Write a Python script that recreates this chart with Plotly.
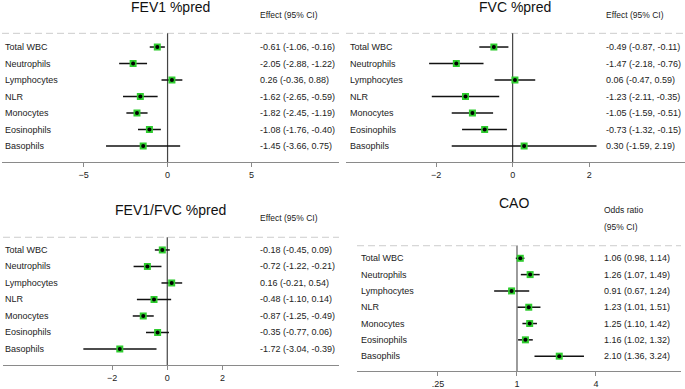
import plotly.graph_objects as go

# ---------------- data ----------------
labels = ["Total WBC", "Neutrophils", "Lymphocytes", "NLR", "Monocytes", "Eosinophils", "Basophils"]

fev1_est = [-0.61, -2.05, 0.26, -1.62, -1.82, -1.08, -1.45]
fev1_lo = [-1.06, -2.88, -0.36, -2.65, -2.45, -1.76, -3.66]
fev1_hi = [-0.16, -1.22, 0.88, -0.59, -1.19, -0.40, 0.75]

fvc_est = [-0.49, -1.47, 0.06, -1.23, -1.05, -0.73, 0.30]
fvc_lo = [-0.87, -2.18, -0.47, -2.11, -1.59, -1.32, -1.59]
fvc_hi = [-0.11, -0.76, 0.59, -0.35, -0.51, -0.15, 2.19]

ratio_est = [-0.18, -0.72, 0.16, -0.48, -0.87, -0.35, -1.72]
ratio_lo = [-0.45, -1.22, -0.21, -1.10, -1.25, -0.77, -3.04]
ratio_hi = [0.09, -0.21, 0.54, 0.14, -0.49, 0.06, -0.39]

cao_est = [1.06, 1.26, 0.91, 1.23, 1.25, 1.16, 2.10]
cao_lo = [0.98, 1.07, 0.67, 1.01, 1.10, 1.02, 1.36]
cao_hi = [1.14, 1.49, 1.24, 1.51, 1.42, 1.32, 3.24]

titles = ["FEV1 %pred", "FVC %pred", "FEV1/FVC %pred", "CAO"]
fev1_ticks = [-5, 0, 5]
fvc_ticks = [-2, 0, 2]
ratio_ticks = [-2, 0, 2]
cao_ticks = [0.25, 1, 4]
cao_ticktext = [".25", "1", "4"]

W, H = 685, 389
FONT = "Liberation Sans, Arial, sans-serif"
GREEN = "#2ecc2e"

def px(x):
    return x / W

def py(y):
    return 1 - y / H

panels = [
    dict(est=fev1_est, lo=fev1_lo, hi=fev1_hi, title=titles[0], ticks=fev1_ticks, ticktext=None,
         xdom=(2, 339), ydom=(0, 162), xrange=[-9.85, 10.2], yrange=[6.97, -2.85], dash=-0.83,
         ref=0, zcol="#444444", zw=1.2, lab_x=3, eff_x=258, title_xy=(170, 7),
         head=[("Effect (95% CI)", 15)], log=False),
    dict(est=fvc_est, lo=fvc_lo, hi=fvc_hi, title=titles[1], ticks=fvc_ticks, ticktext=None,
         xdom=(346, 685), ydom=(0, 162), xrange=[-4.35, 4.5], yrange=[6.97, -2.85], dash=-0.83,
         ref=0, zcol="#444444", zw=1.2, lab_x=348, eff_x=604, title_xy=(515, 7),
         head=[("Effect (95% CI)", 15)], log=False),
    dict(est=ratio_est, lo=ratio_lo, hi=ratio_hi, title=titles[2], ticks=ratio_ticks, ticktext=None,
         xdom=(3, 339), ydom=(195, 365), xrange=[-5.95, 6.22], yrange=[6.97, -3.33], dash=-0.77,
         ref=0, zcol="#444444", zw=1.2, lab_x=3, eff_x=258, title_xy=(170, 210),
         head=[("Effect (95% CI)", 217.5)], log=False),
    dict(est=cao_est, lo=cao_lo, hi=cao_hi, title=titles[3], ticks=cao_ticks, ticktext=cao_ticktext,
         xdom=(357, 681), ydom=(195, 371), xrange=[-1.219, 1.25], yrange=[6.91, -3.88], dash=-0.77,
         ref=1, zcol="#9a9a9a", zw=2, lab_x=359, eff_x=602, title_xy=(514, 203),
         head=[("Odds ratio", 210), ("(95% CI)", 226.5)], log=True),
]

fig = go.Figure()
layout = dict(width=W, height=H, margin=dict(l=0, r=0, t=0, b=0),
              paper_bgcolor="white", plot_bgcolor="rgba(0,0,0,0)",
              showlegend=False, font=dict(family=FONT, size=9, color="#222222"))
annotations = []
shapes = []

for i, p in enumerate(panels):
    n = "" if i == 0 else str(i + 1)
    xa, ya = "x" + n, "y" + n
    rows = list(range(len(labels)))
    ep = [h - e for e, h in zip(p["est"], p["hi"])]
    em = [e - l for e, l in zip(p["est"], p["lo"])]
    fig.add_trace(go.Scatter(
        x=p["est"], y=rows, mode="markers", xaxis=xa, yaxis=ya,
        marker=dict(symbol="square", size=7, color=GREEN, line=dict(width=0)),
        error_x=dict(type="data", symmetric=False, array=ep, arrayminus=em,
                     color="#111111", thickness=1.5, width=0),
        hoverinfo="skip"))
    fig.add_trace(go.Scatter(
        x=p["est"], y=rows, mode="markers", xaxis=xa, yaxis=ya,
        marker=dict(symbol="circle", size=4, color="black", line=dict(width=0)),
        hoverinfo="skip"))

    xaxis = dict(domain=[px(p["xdom"][0]), px(p["xdom"][1])], anchor=ya,
                 range=p["xrange"], showgrid=False, zeroline=False,
                 showline=True, linecolor="#8a8a8a", linewidth=1,
                 ticks="outside", ticklen=4, tickcolor="#8a8a8a", tickwidth=1,
                 tickvals=p["ticks"], tickfont=dict(family=FONT, size=9, color="#222222"),
                 fixedrange=True)
    if p["log"]:
        xaxis["type"] = "log"
        xaxis["ticktext"] = p["ticktext"]
    yaxis = dict(domain=[py(p["ydom"][1]), py(p["ydom"][0])], anchor=xa,
                 range=p["yrange"], visible=False, fixedrange=True)
    layout["xaxis" + n] = xaxis
    layout["yaxis" + n] = yaxis

    # dashed separator
    shapes.append(dict(type="line", xref=xa + " domain", yref=ya, x0=0, x1=1,
                       y0=p["dash"], y1=p["dash"],
                       line=dict(color="#cccccc", width=1, dash="7px,4px"), layer="below"))
    # reference line
    shapes.append(dict(type="line", xref=xa, yref=ya, x0=p["ref"], x1=p["ref"],
                       y0=p["dash"], y1=p["yrange"][0],
                       line=dict(color=p["zcol"], width=p["zw"]), layer="below"))

    # title
    annotations.append(dict(text=p["title"], xref="paper", yref="paper",
                            x=px(p["title_xy"][0]), y=py(p["title_xy"][1]),
                            xanchor="center", yanchor="middle", showarrow=False,
                            font=dict(family=FONT, size=14, color="#111111")))
    for txt, yy in p["head"]:
        annotations.append(dict(text=txt, xref="paper", yref="paper",
                                x=px(p["eff_x"]), y=py(yy), xanchor="left", yanchor="middle",
                                showarrow=False, font=dict(family=FONT, size=8.5, color="#222222")))
    for r, lab in enumerate(labels):
        annotations.append(dict(text=lab, xref="paper", yref=ya, x=px(p["lab_x"]), y=r,
                                xanchor="left", yanchor="middle", showarrow=False,
                                font=dict(family=FONT, size=9, color="#222222")))
        eff = f"{p['est'][r]:.2f} ({p['lo'][r]:.2f}, {p['hi'][r]:.2f})"
        annotations.append(dict(text=eff, xref="paper", yref=ya, x=px(p["eff_x"]), y=r,
                                xanchor="left", yanchor="middle", showarrow=False,
                                font=dict(family=FONT, size=9, color="#222222")))

layout["annotations"] = annotations
layout["shapes"] = shapes
fig.update_layout(**layout)
fig.write_html("out.html",
               config={"displayModeBar": False, "staticPlot": True},
               post_script="document.body.style.margin='0';document.body.style.padding='0';"
                           "document.body.style.overflow='hidden';")
